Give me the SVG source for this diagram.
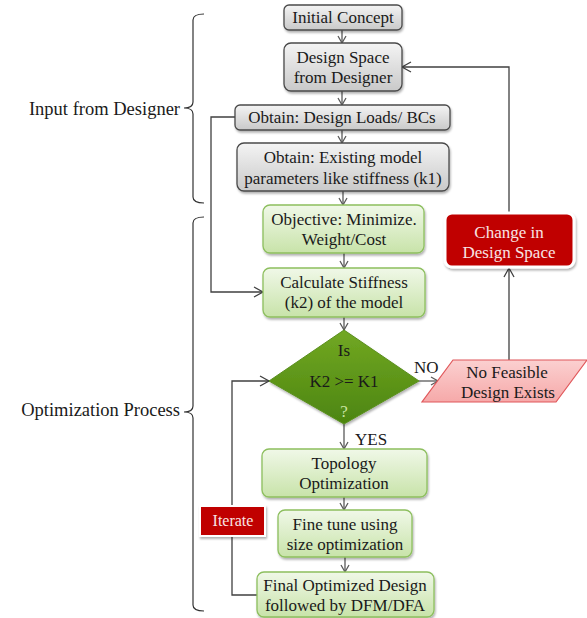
<svg xmlns="http://www.w3.org/2000/svg" width="587" height="618" viewBox="0 0 587 618">
<style>
text{font-family:"Liberation Serif","Times New Roman",serif;font-size:17px;fill:#1a1a1a}
.c{text-anchor:middle}
.gray{fill:url(#gGray);stroke:#4a4a4a;stroke-width:1.3}
.green{fill:url(#gGreen);stroke:#8dbf5e;stroke-width:1.3}
.con{fill:none;stroke:#5a5a5a;stroke-width:1.3}
.loop{fill:none;stroke:#404040;stroke-width:1.3}
.br{fill:none;stroke:#333;stroke-width:1.2}
.lab{text-anchor:end;font-size:18.5px}
</style>
<defs>
<linearGradient id="gGray" x1="0" y1="0" x2="0" y2="1"><stop offset="0" stop-color="#f4f4f4"/><stop offset="1" stop-color="#c9c9c9"/></linearGradient>
<linearGradient id="gGreen" x1="0" y1="0" x2="0" y2="1"><stop offset="0" stop-color="#f0f8e8"/><stop offset="1" stop-color="#c8e3a9"/></linearGradient>
<linearGradient id="gDia" x1="0" y1="0" x2="0" y2="1"><stop offset="0" stop-color="#72a823"/><stop offset="1" stop-color="#4c8510"/></linearGradient>
<linearGradient id="gPink" x1="0" y1="0" x2="0" y2="1"><stop offset="0" stop-color="#fbd0d0"/><stop offset="1" stop-color="#f6a9a9"/></linearGradient>
<filter id="sh" x="-10%" y="-10%" width="130%" height="140%"><feDropShadow dx="1" dy="2" stdDeviation="1.2" flood-color="#000" flood-opacity="0.3"/></filter>
<marker id="ar" markerWidth="10" markerHeight="10" refX="8" refY="5" orient="auto" markerUnits="userSpaceOnUse"><path d="M1,1 L8,5 L1,9" fill="none" stroke="#5a5a5a" stroke-width="1.3"/></marker>
<marker id="ar2" markerWidth="12" markerHeight="12" refX="10" refY="6" orient="auto" markerUnits="userSpaceOnUse"><path d="M1,1 L10,6 L1,11" fill="none" stroke="#404040" stroke-width="1.3"/></marker>
</defs>

<g id="brackets">
<path class="br" d="M204,14 Q193,14 193,20 V102 Q193,108 184,108 Q193,108 193,114 V197 Q193,203 204,203"/>
<path class="br" d="M204,217 Q193,217 193,223 V406 Q193,412 184,412 Q193,412 193,418 V605 Q193,611 204,611"/>
<text class="lab" x="180" y="115">Input from Designer</text>
<text class="lab" x="180" y="416">Optimization Process</text>
</g>

<g id="connectors">
<line class="con" x1="342" y1="30" x2="342" y2="43" marker-end="url(#ar)"/>
<line class="con" x1="342" y1="91" x2="342" y2="105" marker-end="url(#ar)"/>
<line class="con" x1="342" y1="130" x2="342" y2="143" marker-end="url(#ar)"/>
<line class="con" x1="343" y1="191" x2="343" y2="205" marker-end="url(#ar)"/>
<line class="con" x1="344" y1="253" x2="344" y2="268" marker-end="url(#ar)"/>
<line class="con" x1="344" y1="317" x2="344" y2="330" marker-end="url(#ar)"/>
<line class="con" x1="344" y1="424" x2="344" y2="449" marker-end="url(#ar)"/>
<line class="con" x1="344" y1="497" x2="344" y2="510" marker-end="url(#ar)"/>
<line class="con" x1="345" y1="557" x2="345" y2="572" marker-end="url(#ar)"/>
<line class="con" x1="419" y1="381" x2="438" y2="381" marker-end="url(#ar)"/>
<polyline class="loop" points="235,117 211,117 211,292 263,292" marker-end="url(#ar2)"/>
<polyline class="loop" points="257,595 232,595 232,381 269,381" marker-end="url(#ar2)"/>
<line class="loop" x1="509" y1="360" x2="509" y2="268" marker-end="url(#ar2)"/>
<polyline class="loop" points="509,213 509,67 402,67" marker-end="url(#ar2)"/>
<text x="414" y="373">NO</text>
<text x="355" y="445">YES</text>
</g>

<g id="initial"><rect class="gray" x="284" y="5" width="118" height="25" rx="5" filter="url(#sh)"/><text class="c" x="343" y="23">Initial Concept</text></g>
<g id="designspace"><rect class="gray" x="284" y="43" width="118" height="48" rx="7" filter="url(#sh)"/><text class="c" x="343" y="63">Design Space</text><text class="c" x="343" y="83">from Designer</text></g>
<g id="loads"><rect class="gray" x="235" y="105" width="215" height="25" rx="5" filter="url(#sh)"/><text class="c" x="342" y="123">Obtain: Design Loads/ BCs</text></g>
<g id="existing"><rect class="gray" x="237" y="143" width="212" height="48" rx="7" filter="url(#sh)"/><text class="c" x="343" y="163">Obtain: Existing model</text><text class="c" x="343" y="184">parameters like stiffness (k1)</text></g>
<g id="objective"><rect class="green" x="263" y="205" width="161" height="48" rx="7" filter="url(#sh)"/><text class="c" x="344" y="225">Objective: Minimize.</text><text class="c" x="344" y="245">Weight/Cost</text></g>
<g id="calculate"><rect class="green" x="263" y="268" width="162" height="49" rx="7" filter="url(#sh)"/><text class="c" x="344" y="288">Calculate Stiffness</text><text class="c" x="344" y="308">(k2) of the model</text></g>
<g id="decision"><polygon points="344,330 419,381 344,424 269,381" fill="url(#gDia)" stroke="#5a8f1e" stroke-width="1" filter="url(#sh)"/><text class="c" x="344" y="356">Is</text><text class="c" x="344" y="387">K2 &gt;= K1</text><text class="c" x="344" y="417" style="fill:#c8e3a0">?</text></g>
<g id="nofeasible"><polygon points="453,360 587,360 556,402 422,402" fill="url(#gPink)" stroke="#e0575a" stroke-width="1.2"/><text class="c" x="507" y="378">No Feasible</text><text class="c" x="508" y="398">Design Exists</text></g>
<g id="change"><rect x="445" y="213" width="129" height="54" rx="7" fill="#c00000" stroke="#fff" stroke-width="3" filter="url(#sh)"/><text class="c" x="509" y="238" style="fill:#f8e4e4">Change in</text><text class="c" x="509" y="258" style="fill:#f8e4e4">Design Space</text></g>
<g id="topology"><rect class="green" x="262" y="449" width="165" height="48" rx="7" filter="url(#sh)"/><text class="c" x="344" y="469">Topology</text><text class="c" x="344" y="489">Optimization</text></g>
<g id="finetune"><rect class="green" x="278" y="510" width="134" height="47" rx="7" filter="url(#sh)"/><text class="c" x="345" y="530">Fine tune using</text><text class="c" x="345" y="550">size optimization</text></g>
<g id="final"><rect class="green" x="257" y="572" width="177" height="45" rx="7" filter="url(#sh)"/><text class="c" x="345" y="591">Final Optimized Design</text><text class="c" x="345" y="611">followed by DFM/DFA</text></g>
<g id="iterate"><rect x="199" y="505" width="67" height="32" fill="#fff" filter="url(#sh)"/><rect x="201" y="507" width="63" height="28" fill="#c00000"/><text class="c" x="233" y="526" style="fill:#f8e4e4;font-size:16px">Iterate</text></g>
</svg>
